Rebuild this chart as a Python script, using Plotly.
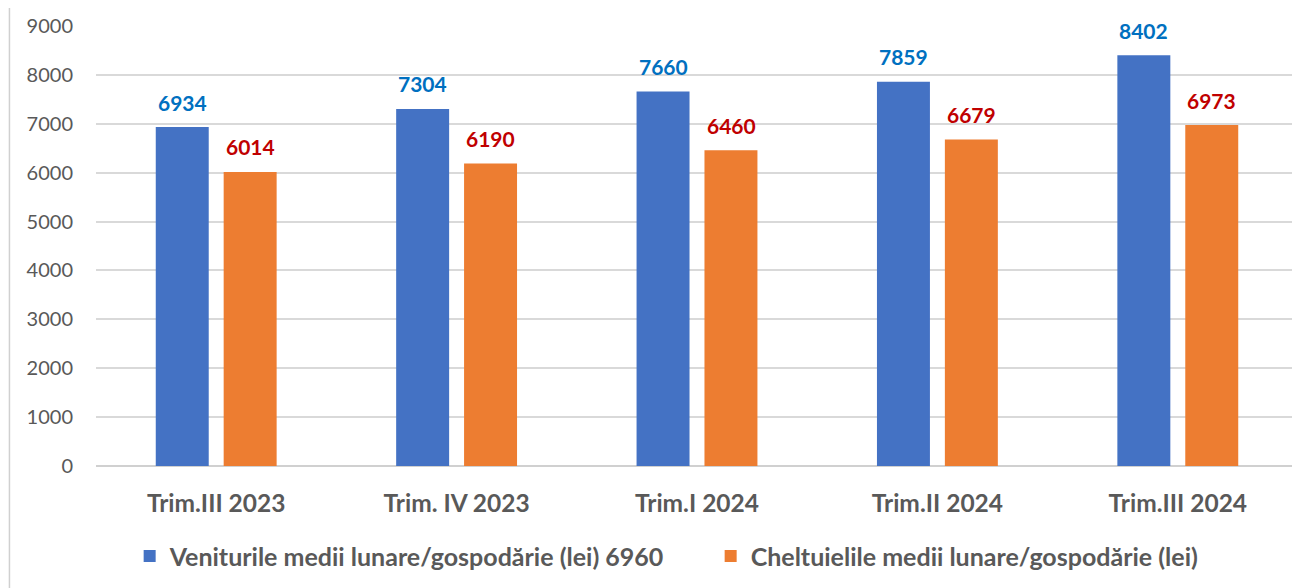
import plotly.graph_objects as go

categories = ['Trim.III 2023', 'Trim. IV 2023', 'Trim.I 2024', 'Trim.II 2024', 'Trim.III 2024']
venituri = [6934, 7304, 7660, 7859, 8402]
cheltuieli = [6014, 6190, 6460, 6679, 6973]
name_venituri = 'Veniturile medii lunare/gospodărie (lei) 6960'
name_cheltuieli = 'Cheltuielile medii lunare/gospodărie (lei)'

FONT = 'Lato, Open Sans, sans-serif'
GREY = '#595959'

fig = go.Figure()
fig.add_trace(go.Bar(x=categories, y=venituri, name=f'<b>{name_venituri}</b>',
                     marker=dict(color='#4472C4', line=dict(width=0))))
fig.add_trace(go.Bar(x=categories, y=cheltuieli, name=f'<b>{name_cheltuieli}</b>',
                     marker=dict(color='#ED7D31', line=dict(width=0))))

# value labels above the bars
for cat, v in zip(categories, venituri):
    fig.add_annotation(x=cat, y=v, text=f'<b>{v}</b>', showarrow=False,
                       xshift=-34, yshift=25, font=dict(size=21, color='#0070C0', family=FONT))
for cat, v in zip(categories, cheltuieli):
    fig.add_annotation(x=cat, y=v, text=f'<b>{v}</b>', showarrow=False,
                       xshift=34, yshift=25, font=dict(size=21, color='#C00000', family=FONT))

# thin frame line on the left
fig.add_shape(type='line', xref='paper', yref='paper', x0=-0.072, x1=-0.072, y0=-0.4, y1=1.1,
              line=dict(color='#d0d0d0', width=1.5))

fig.update_layout(
    width=1300, height=588,
    margin=dict(l=88, r=10, t=18, b=130, autoexpand=False),
    paper_bgcolor='white', plot_bgcolor='white',
    barmode='group', bargap=0.435, bargroupgap=0.22,
    font=dict(family=FONT, color=GREY),
    showlegend=True,
    legend=dict(orientation='h', x=0.028, xanchor='left', y=-0.205, yanchor='middle',
                font=dict(size=25, color=GREY, family=FONT), entrywidth=536,
                itemwidth=30, tracegroupgap=0),
    xaxis=dict(tickfont=dict(size=24.5, color=GREY, family=FONT), ticklabelstandoff=20,
               showline=False, ticks='',
               tickvals=categories, ticktext=[f'<b>{c}</b>' for c in categories]),
    yaxis=dict(range=[0, 9000], dtick=1000, tickfont=dict(size=20, color=GREY, family=FONT),
               gridcolor='#d9d9d9', gridwidth=1.5, zeroline=True, zerolinecolor='#d0d0d0',
               zerolinewidth=2, ticklabelstandoff=22, showline=False),
)

fig.write_html('out.html')
